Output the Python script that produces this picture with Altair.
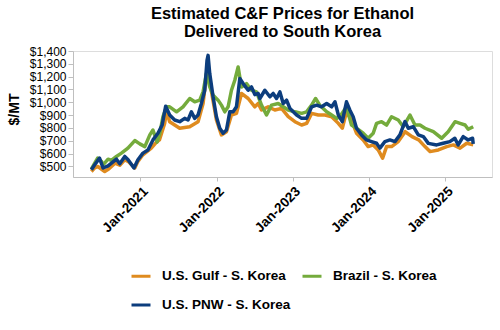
import altair as alt
import pandas as pd

# ---- data ----
gulf_dates = ["2020-05-11","2020-05-27","2020-06-11","2020-07-14","2020-08-02","2020-09-01","2020-09-24","2020-10-18","2020-11-03","2020-12-05","2020-12-20","2021-01-13","2021-02-22","2021-03-19","2021-04-02","2021-04-27","2021-05-06","2021-05-21","2021-07-08","2021-08-25","2021-10-04","2021-10-28","2021-11-16","2021-12-06","2021-12-31","2022-01-24","2022-02-17","2022-03-13","2022-04-06","2022-04-30","2022-06-01","2022-07-03","2022-07-19","2022-08-04","2022-09-05","2022-10-07","2022-11-08","2022-12-10","2023-01-11","2023-02-12","2023-03-08","2023-04-01","2023-05-03","2023-06-04","2023-07-06","2023-08-07","2023-08-26","2023-09-15","2023-10-09","2023-11-02","2023-12-04","2023-12-28","2024-01-21","2024-02-14","2024-03-06","2024-03-25","2024-04-18","2024-05-20","2024-06-22","2024-07-25","2024-08-26","2024-09-25","2024-10-19","2024-11-28","2025-01-07","2025-02-08","2025-03-12","2025-04-13","2025-05-14"]
gulf_values = [461,490,500,461,480,526,510,552,540,488,540,591,643,690,707,836,930,849,798,810,849,991,1250,1094,862,746,771,901,914,1069,1030,965,991,940,965,940,953,888,849,823,836,914,901,901,888,836,798,926,862,759,707,655,668,629,565,655,655,694,771,733,707,655,616,629,655,668,643,681,670]

brazil_dates = ["2020-05-11","2020-05-27","2020-06-10","2020-06-28","2020-07-06","2020-07-30","2020-08-15","2020-09-08","2020-10-02","2020-11-02","2020-12-05","2020-12-29","2021-01-22","2021-02-15","2021-03-02","2021-03-22","2021-04-04","2021-04-19","2021-05-06","2021-05-21","2021-06-23","2021-07-24","2021-08-25","2021-09-18","2021-10-12","2021-10-28","2021-11-13","2021-11-29","2021-12-15","2022-01-08","2022-01-24","2022-02-09","2022-02-25","2022-03-13","2022-03-29","2022-04-14","2022-04-30","2022-05-24","2022-06-17","2022-07-11","2022-08-04","2022-08-28","2022-09-21","2022-10-23","2022-11-16","2022-12-10","2023-01-11","2023-02-12","2023-03-08","2023-04-01","2023-04-20","2023-05-10","2023-06-12","2023-07-06","2023-07-30","2023-08-14","2023-09-15","2023-10-09","2023-11-02","2023-12-04","2023-12-28","2024-01-21","2024-02-06","2024-03-01","2024-03-25","2024-04-18","2024-05-20","2024-06-13","2024-07-15","2024-08-08","2024-09-01","2024-09-25","2024-11-04","2024-12-14","2025-01-14","2025-02-16","2025-03-12","2025-04-05","2025-04-20","2025-05-14"]
brazil_values = [480,526,565,540,513,557,547,578,604,643,702,676,655,746,784,690,760,888,965,965,926,965,1030,1004,1017,1081,1224,1120,1056,1017,978,926,965,1094,1172,1275,1120,1146,1094,1081,978,901,978,991,965,940,926,914,926,978,1030,978,926,901,875,888,965,823,798,759,720,759,836,849,823,888,862,810,901,823,823,798,771,720,771,849,836,823,790,810]

pnw_dates = ["2020-05-11","2020-05-27","2020-06-19","2020-07-06","2020-07-30","2020-09-08","2020-09-24","2020-10-18","2020-11-03","2020-12-01","2020-12-20","2021-01-13","2021-02-06","2021-03-02","2021-03-26","2021-04-15","2021-05-02","2021-05-21","2021-06-14","2021-07-08","2021-08-01","2021-08-17","2021-09-02","2021-09-18","2021-10-04","2021-10-20","2021-11-05","2021-11-16","2021-11-21","2021-11-29","2021-12-15","2021-12-31","2022-01-16","2022-02-01","2022-02-17","2022-03-05","2022-03-21","2022-04-06","2022-04-22","2022-05-08","2022-06-01","2022-06-17","2022-07-03","2022-07-19","2022-07-27","2022-08-20","2022-09-13","2022-09-29","2022-10-15","2022-10-31","2022-11-16","2022-12-02","2022-12-18","2023-01-03","2023-01-19","2023-02-12","2023-03-08","2023-04-01","2023-04-25","2023-05-19","2023-06-12","2023-07-06","2023-07-22","2023-08-07","2023-08-26","2023-09-15","2023-10-01","2023-10-17","2023-11-02","2023-11-26","2023-12-20","2024-01-13","2024-02-06","2024-02-22","2024-03-17","2024-04-10","2024-05-04","2024-05-28","2024-06-21","2024-07-07","2024-07-31","2024-08-24","2024-09-17","2024-10-11","2024-11-20","2024-12-21","2025-01-22","2025-02-15","2025-03-03","2025-03-27","2025-04-20","2025-05-11","2025-05-14"]
pnw_values = [474,513,565,488,505,557,521,578,552,488,552,604,629,707,759,823,970,901,862,849,875,862,926,875,901,991,1094,1327,1366,1224,1043,888,798,759,784,926,926,965,1185,1146,1094,1120,1060,1069,1030,1094,1043,1069,1030,1081,991,1017,953,926,901,875,875,965,978,965,991,965,1004,901,849,1004,940,888,798,746,707,694,681,643,694,707,694,746,850,798,810,746,733,680,668,681,694,720,668,733,707,720,676]

series_names = ["U.S. Gulf - S. Korea", "Brazil - S. Korea", "U.S. PNW - S. Korea"]
series_colors = ["#DF8B1F", "#74AB3C", "#0C3D7D"]
y_ticks = [500, 600, 700, 800, 900, 1000, 1100, 1200, 1300, 1400]
x_ticks = ["2021-01-01", "2022-01-01", "2023-01-01", "2024-01-01", "2025-01-01"]

frames = []
for name, d, v, o in [(series_names[0], gulf_dates, gulf_values, 0),
                      (series_names[1], brazil_dates, brazil_values, 1),
                      (series_names[2], pnw_dates, pnw_values, 2)]:
    frames.append(pd.DataFrame({"date": pd.to_datetime(d), "price": v, "series": name, "order": o}))
df = pd.concat(frames, ignore_index=True)

FONT = "Liberation Sans"

x_ticks_dt = [alt.DateTime(year=int(t[:4]), month=1, date=1) for t in x_ticks]

chart = alt.Chart(df).mark_line(strokeWidth=3.5, strokeJoin="round").encode(
    x=alt.X("date:T",
            scale=alt.Scale(domain=[alt.DateTime(year=2020, month=2, date=13),
                                    alt.DateTime(year=2025, month=8, date=12)], nice=False),
            axis=alt.Axis(title=None, values=x_ticks_dt, format="%b-%Y", labelAngle=-45,
                          labelAlign="right", labelBaseline="top", grid=False,
                          tickSize=4, labelPadding=3, labelFontSize=13.5, labelFont=FONT,
                          labelFontWeight="bold", labelColor="#000",
                          domainColor="#BFBFBF", tickColor="#BFBFBF")),
    y=alt.Y("price:Q",
            scale=alt.Scale(domain=[418, 1400], nice=False, zero=False),
            axis=alt.Axis(title="$/MT", values=y_ticks, format="$,.0f", grid=False,
                          labelOverlap=False,
                          tickSize=5, labelPadding=2, labelFontSize=12, labelFont=FONT,
                          labelColor="#000", titleFont=FONT, titleFontSize=14,
                          titleFontWeight="bold", titleColor="#000",
                          titleX=-55, titleY=58, titleBaseline="alphabetic",
                          domainColor="#BFBFBF", tickColor="#BFBFBF")),
    color=alt.Color("series:N",
                    scale=alt.Scale(domain=series_names, range=series_colors),
                    legend=alt.Legend(title=None, orient="none", legendX=57, legendY=214,
                                      columns=2, direction="horizontal",
                                      symbolType="stroke", symbolSize=361,
                                      symbolStrokeWidth=3, labelFont=FONT,
                                      labelFontSize=13.5, labelFontWeight="bold",
                                      labelColor="#000", labelLimit=300,
                                      labelOffset=10, columnPadding=5, rowPadding=11)),
    order=alt.Order("order:Q"),
    detail="series:N",
).properties(
    width=419,
    height=126,
    title=alt.TitleParams(["Estimated C&F Prices for Ethanol", "Delivered to South Korea"],
                          font=FONT, fontSize=16.5, fontWeight="bold", color="#000",
                          anchor="middle", lineHeight=18, offset=5),
    autosize=alt.AutoSizeParams(type="none"),
    padding={"left": 73, "top": 51, "right": 8, "bottom": 153},
).configure_view(stroke=None).configure(background="white")

chart.save("out.html", embed_options={"renderer": "svg", "actions": False})
